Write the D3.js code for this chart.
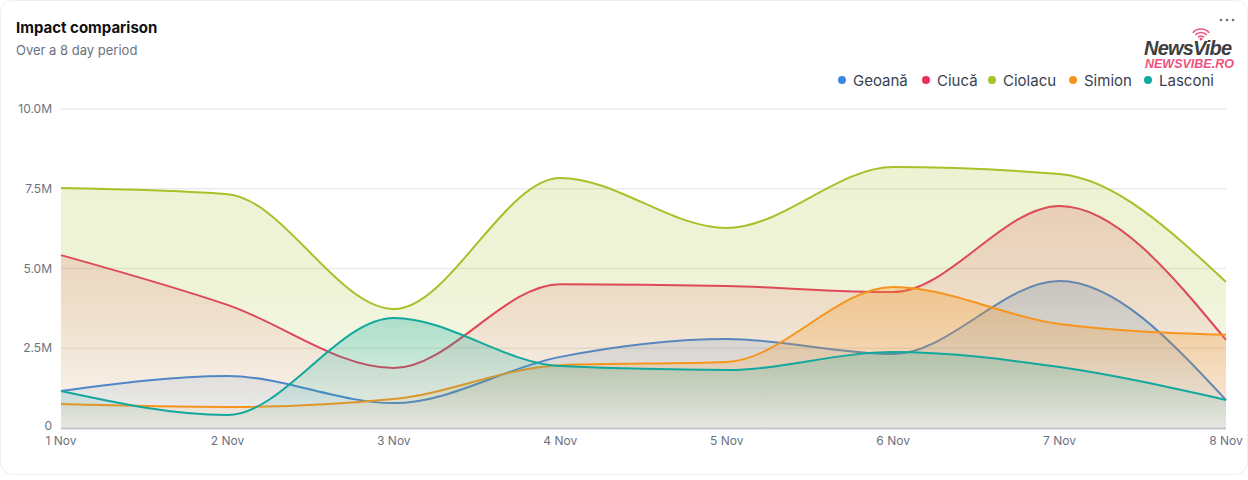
<!DOCTYPE html>
<html><head><meta charset="utf-8">
<script src="https://cdn.jsdelivr.net/npm/d3@7"></script>
<style>
html,body{margin:0;padding:0;background:#fff;}
svg{display:block;font-family:Inter,"Noto Sans",sans-serif;}
</style></head><body>
<svg id="c" width="1248" height="480"></svg>
<script>
const categories = ["1 Nov","2 Nov","3 Nov","4 Nov","5 Nov","6 Nov","7 Nov","8 Nov"];
const seriesNames = ["Geoană","Ciucă","Ciolacu","Simion","Lasconi"];
const seriesColors = ["#3b86e0","#ea2f5f","#a5c229","#f7941d","#12a89d"];
const geoana  = [1.16,1.63,0.78,2.23,2.79,2.32,4.61,0.88];
const ciuca   = [5.42,3.86,1.88,4.51,4.45,4.26,6.96,2.76];
const ciolacu = [7.52,7.33,3.73,7.84,6.27,8.18,7.96,4.58];
const simion  = [0.75,0.66,0.91,1.97,2.07,4.42,3.26,2.92];
const lasconi = [1.16,0.41,3.45,1.94,1.82,2.38,1.91,0.88];
const yTicks = [0,2.5,5,7.5,10];
const yTickLabels = ["0","2.5M","5.0M","7.5M","10.0M"];
const seriesValues = [geoana,ciuca,ciolacu,simion,lasconi];

const svg = d3.select("#c");
svg.append("rect").attr("x",0.5).attr("y",0.5).attr("width",1247).attr("height",474)
  .attr("rx",12).attr("fill","#fff").attr("stroke","#eceef1");

svg.append("text").attr("x",16).attr("y",33).text("Impact comparison")
  .attr("font-size",15).attr("font-weight",700).attr("fill","#111");
svg.append("text").attr("x",16).attr("y",55).text("Over a 8 day period")
  .attr("font-size",13).attr("fill","#6b7280");

[1221,1227,1233].forEach(x=>svg.append("circle").attr("cx",x).attr("cy",20).attr("r",1.3).attr("fill","#6b7280"));
const logo = svg.append("g");
logo.append("text").attr("x",1144).attr("y",55).text("NewsVibe")
  .attr("font-size",20).attr("font-weight",900).attr("font-style","italic").attr("fill","#3f3f3f")
  .attr("font-family","'Liberation Sans',Arial,sans-serif").attr("letter-spacing",-0.8);
logo.append("text").attr("x",1145).attr("y",68).text("NEWSVIBE.RO")
  .attr("font-size",12.5).attr("font-weight",900).attr("font-style","italic").attr("fill","#f0527e")
  .attr("font-family","'Liberation Sans',Arial,sans-serif");
[4,7.5,11].forEach(r=>logo.append("path")
  .attr("d",d3.arc()({innerRadius:r-0.8,outerRadius:r+0.8,startAngle:-0.85,endAngle:0.85}))
  .attr("transform","translate(1201,40)").attr("fill","#f0527e"));
logo.append("circle").attr("cx",1201).attr("cy",39).attr("r",1.5).attr("fill","#f0527e");

const m = {l:61, r:1226, t:109, b:428};
const x = d3.scalePoint().domain(categories).range([m.l,m.r]);
const y = d3.scaleLinear().domain([0,10]).range([m.b,m.t]);

svg.append("g").selectAll("line").data(yTicks.filter(d=>d>0)).join("line")
  .attr("x1",m.l).attr("x2",m.r).attr("y1",d=>y(d)).attr("y2",d=>y(d))
  .attr("stroke","#ebebeb").attr("stroke-width",1.5);

svg.append("g").selectAll("text").data(yTicks).join("text")
  .attr("x",52).attr("y",d=>y(d)+(d===0?2:4)).attr("text-anchor","end")
  .attr("font-size",12).attr("fill","#6b7280").text((d,i)=>yTickLabels[i]);

const defs = svg.append("defs");
const area = d3.area().x((d,i)=>x(categories[i])).y0(m.b).y1(d=>y(d)).curve(d3.curveMonotoneX);
const line = d3.line().x((d,i)=>x(categories[i])).y(d=>y(d)).curve(d3.curveMonotoneX);

// gradient stops per series: [top, middle, bottom] opacity
const gradStops = [[0.25,0.15,0.05],[0.22,0.12,0.03],[0.21,0.18,0.04],[0.32,0.2,0.05],[0.3,0.18,0.05]];
seriesValues.forEach((vals,k)=>{
  const top = y(d3.max(vals));
  const g = defs.append("linearGradient").attr("id","g"+k).attr("gradientUnits","userSpaceOnUse")
    .attr("x1",0).attr("x2",0).attr("y1",top).attr("y2",m.b);
  gradStops[k].forEach((op,j)=>g.append("stop").attr("offset",j/2)
    .attr("stop-color",seriesColors[k]).attr("stop-opacity",op));
  svg.append("path").attr("d",area(vals)).attr("fill",`url(#g${k})`);
  svg.append("path").attr("d",line(vals)).attr("fill","none")
    .attr("stroke",seriesColors[k]).attr("stroke-width",2);
});

svg.append("line").attr("x1",m.l).attr("x2",m.r).attr("y1",m.b+0.5).attr("y2",m.b+0.5)
  .attr("stroke","#c4c6cc").attr("stroke-width",2);

svg.append("g").selectAll("text").data(categories).join("text")
  .attr("x",d=>x(d)).attr("y",445).attr("text-anchor","middle")
  .attr("font-size",12).attr("fill","#6b7280").text(d=>d);

const lg = svg.append("g").attr("font-size",15).attr("fill","#374151");
const legendX = [842,926,992,1073,1148];
seriesNames.forEach((n,i)=>{
  lg.append("circle").attr("cx",legendX[i]).attr("cy",80).attr("r",4).attr("fill",seriesColors[i]);
  lg.append("text").attr("x",legendX[i]+11).attr("y",85.5).text(n).attr("fill","#374151");
});
</script>
</body></html>
